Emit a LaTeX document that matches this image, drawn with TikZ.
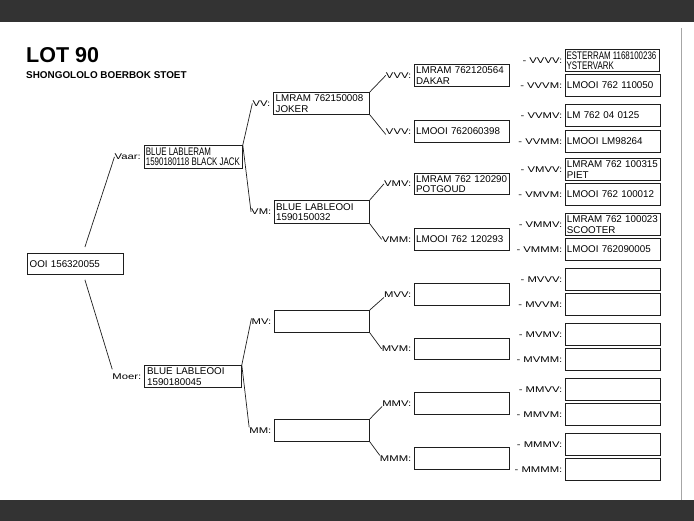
\documentclass[tikz,border=0pt]{standalone}
\usepackage{fontspec}
\setmainfont{Liberation Sans}
\newfontfamily\narrowfont[FakeStretch=0.72]{Liberation Sans}
\newfontfamily\labfont[FakeStretch=1.36]{Liberation Sans}
\definecolor{barc}{HTML}{333333}
\definecolor{edgec}{HTML}{1E1E1E}
\newcommand\pbx[6]{\node[pbox, minimum width=#4pt, minimum height=#5pt] (#1) at (#2,#3) {#6};}
\newcommand\lbl[3]{\node[lab] (l-#1) at ([xshift=-#2pt]#1.west) {#3};}
\newcommand\nsp{\hspace{2.2pt}}
\begin{document}
\begin{tikzpicture}[x=1pt,y=-1pt,
  pbox/.style={draw=edgec, line width=0.8pt, fill=white, anchor=north west,
    inner xsep=1.5pt, inner ysep=0pt, text width=91.5pt, align=left,
    font=\fontsize{9.8}{10.5}\selectfont},
  narrow/.style={font=\narrowfont\fontsize{11}{10.3}\selectfont, inner xsep=1.2pt},
  lab/.style={font=\labfont\fontsize{8.3}{10}\selectfont, inner sep=0pt, anchor=east},
  conn/.style={draw=edgec, line width=0.7pt}]
\useasboundingbox (0,0) rectangle (694,521);
\fill[barc] (0,0) rectangle (694,22);
\fill[barc] (0,500) rectangle (694,521);
\draw[gray!70, line width=0.8pt] (681,28) -- (681,500);
% title
\node[anchor=base west, inner sep=0pt, font=\bfseries\fontsize{21.5}{24}\selectfont] (title) at (26,63) {LOT 90};
\node[anchor=base west, inner sep=0pt, font=\bfseries\fontsize{9.9}{12}\selectfont] (subtitle) at (26,79) {SHONGOLOLO BOERBOK STOET};
% generation 0
\pbx{root}{27}{253}{96}{21}{OOI 156320055}
% generation 1
\node[pbox, narrow, text width=95pt, minimum width=98pt, minimum height=23pt] (vaar) at (144,145) {\mbox{BLUE\nsp LABLERAM}\\\mbox{1590180118\nsp BLACK\nsp JACK}};
\pbx{moer}{144}{365}{97}{22}{BLUE LABLEOOI\\1590180045}
% generation 2
\pbx{vv}{273}{92}{96}{22}{LMRAM 762150008\\JOKER}
\pbx{vm}{274}{200}{95}{23}{BLUE LABLEOOI\\1590150032}
\pbx{mv}{274}{310}{95}{22}{}
\pbx{mm}{274}{419}{95}{22}{}
% generation 3
\pbx{vvv}{414}{64}{95}{22}{LMRAM 762120564\\DAKAR}
\pbx{vvm}{414}{120}{95}{22}{LMOOI 762060398}
\pbx{vmv}{414}{173}{95}{21}{\mbox{LMRAM 762 120290}\\POTGOUD}
\pbx{vmm}{414}{228}{95}{22}{LMOOI 762 120293}
\pbx{mvv}{414}{283}{95}{22}{}
\pbx{mvm}{414}{338}{95}{21}{}
\pbx{mmv}{414}{392}{95}{22}{}
\pbx{mmm}{414}{447}{95}{22}{}
% generation 4
\node[pbox, narrow, text width=91.5pt, minimum width=94pt, minimum height=22pt] (vvvv) at (565,49) {\mbox{ESTERRAM\nsp 1168100236}\\\mbox{YSTERVARK}};
\pbx{vvvm}{565}{74}{94}{22}{LMOOI 762 110050}
\pbx{vvmv}{565}{104}{94}{22}{LM 762 04 0125}
\pbx{vvmm}{565}{130}{94}{22}{LMOOI LM98264}
\pbx{vmvv}{565}{158}{94}{22}{\mbox{LMRAM 762 100315}\\PIET}
\pbx{vmvm}{565}{183}{94}{22}{LMOOI 762 100012}
\pbx{vmmv}{565}{213}{94}{22}{\mbox{LMRAM 762 100023}\\SCOOTER}
\pbx{vmmm}{565}{238}{94}{22}{LMOOI 762090005}
\pbx{mvvv}{565}{268}{94}{22}{}
\pbx{mvvm}{565}{293}{94}{22}{}
\pbx{mvmv}{565}{323}{94}{22}{}
\pbx{mvmm}{565}{348}{94}{22}{}
\pbx{mmvv}{565}{378}{94}{22}{}
\pbx{mmvm}{565}{403}{94}{22}{}
\pbx{mmmv}{565}{433}{94}{22}{}
\pbx{mmmm}{565}{458}{94}{22}{}
% labels
\lbl{vaar}{3}{Vaar:}
\lbl{moer}{2.5}{Moer:}
\lbl{vv}{2.5}{VV:}
\lbl{vm}{2.5}{VM:}
\lbl{mv}{2.5}{MV:}
\lbl{mm}{2.5}{MM:}
\lbl{vvv}{2.5}{VVV:}
\lbl{vvm}{2.5}{VVV:}
\lbl{vmv}{2.5}{VMV:}
\lbl{vmm}{2.5}{VMM:}
\lbl{mvv}{2.5}{MVV:}
\lbl{mvm}{2.5}{MVM:}
\lbl{mmv}{2.5}{MMV:}
\lbl{mmm}{2.5}{MMM:}
\lbl{vvvv}{2.5}{- VVVV:}
\lbl{vvvm}{2.5}{- VVVM:}
\lbl{vvmv}{2.5}{- VVMV:}
\lbl{vvmm}{2.5}{- VVMM:}
\lbl{vmvv}{2.5}{- VMVV:}
\lbl{vmvm}{2.5}{- VMVM:}
\lbl{vmmv}{2.5}{- VMMV:}
\lbl{vmmm}{2.5}{- VMMM:}
\lbl{mvvv}{2.5}{- MVVV:}
\lbl{mvvm}{2.5}{- MVVM:}
\lbl{mvmv}{2.5}{- MVMV:}
\lbl{mvmm}{2.5}{- MVMM:}
\lbl{mmvv}{2.5}{- MMVV:}
\lbl{mmvm}{2.5}{- MMVM:}
\lbl{mmmv}{2.5}{- MMMV:}
\lbl{mmmm}{2.5}{- MMMM:}
% connectors
\draw[conn] ([xshift=9.5pt,yshift=6pt]root.north) -- (l-vaar.west);
\draw[conn] ([xshift=9.5pt,yshift=-5pt]root.south) -- ([yshift=4pt]l-moer.north west);
\draw[conn] (vaar.north east) -- (l-vv.west);
\draw[conn] (vaar.north east) -- (l-vm.west);
\draw[conn] (moer.north east) -- (l-mv.north west);
\draw[conn] (moer.north east) -- (l-mm.north west);
\draw[conn] (vv.north east) -- (l-vvv.west);
\draw[conn] (vv.south east) -- (l-vvm.south west);
\draw[conn] (vm.north east) -- (l-vmv.west);
\draw[conn] (vm.south east) -- (l-vmm.west);
\draw[conn] (mv.north east) -- (l-mvv.south west);
\draw[conn] (mv.south east) -- (l-mvm.west);
\draw[conn] (mm.north east) -- (l-mmv.south west);
\draw[conn] (mm.south east) -- (l-mmm.north west);
\end{tikzpicture}
\end{document}
